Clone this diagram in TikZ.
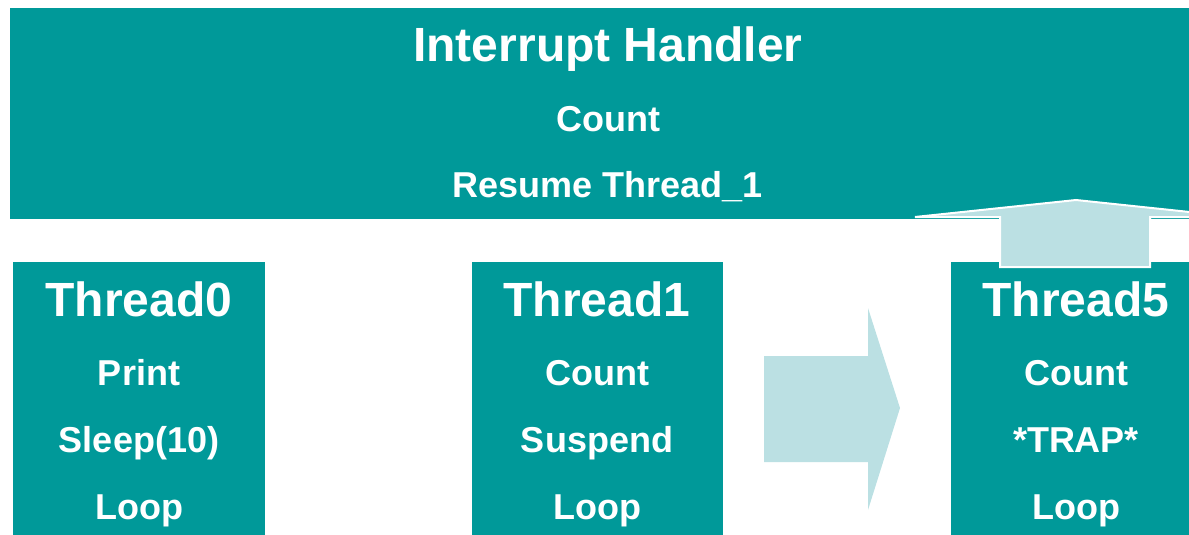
\documentclass[tikz,border=0pt]{standalone}
\usepackage{fontspec}
\setmainfont{Liberation Sans}
\begin{document}
\begin{tikzpicture}[x=1pt,y=-1pt,
  box/.style={fill=teal0,draw=none},
  big/.style={text=white,font=\fontsize{48}{48}\selectfont\bfseries,anchor=base,inner sep=0pt},
  small/.style={text=white,font=\fontsize{36}{36}\selectfont\bfseries,anchor=base,inner sep=0pt},
  arrowshape/.style={fill=light0}]
\definecolor{teal0}{RGB}{0,153,153}
\definecolor{light0}{RGB}{187,224,227}
\useasboundingbox (0,0) rectangle (1189,535);
\begin{scope}
\clip (0,0) rectangle (1189,535);
% header
\fill[teal0] (10,8) rectangle (1206,219);
\node[big] (ih) at (608,62) {Interrupt Handler};
\node[small] (ihc) at (608,131) {Count};
\node[small] (ihr) at (608,197) {Resume Thread\_1};
% threads
\fill[teal0] (13,262) rectangle (265,540);
\node[big] (t0) at (139,316) {Thread0};
\node[small] (t0a) at (139,385) {Print};
\node[small] (t0b) at (139,452) {Sleep(10)};
\node[small] (t0c) at (139,519) {Loop};
\fill[teal0] (472,262) rectangle (723,540);
\node[big] (t1) at (597,316) {Thread1};
\node[small] (t1a) at (597,385) {Count};
\node[small] (t1b) at (597,452) {Suspend};
\node[small] (t1c) at (597,519) {Loop};
\fill[teal0] (951,262) rectangle (1202,540);
\node[big] (t5) at (1076,316) {Thread5};
\node[small] (t5a) at (1076,385) {Count};
\node[small] (t5b) at (1076,452) {*TRAP*};
\node[small] (t5c) at (1076,519) {Loop};
% right arrow
\fill[light0] (764,356) -- (868,356) -- (868,308) -- (900,408) -- (868,510) -- (868,462) -- (764,462) -- cycle;
% up arrow
\filldraw[fill=light0,draw=white,line width=2pt,line join=miter]
  (1000,267) -- (1000,217) -- (915,217) -- (1076,200) -- (1237,217) -- (1150,217) -- (1150,267) -- cycle;
\end{scope}
\end{tikzpicture}
\end{document}
